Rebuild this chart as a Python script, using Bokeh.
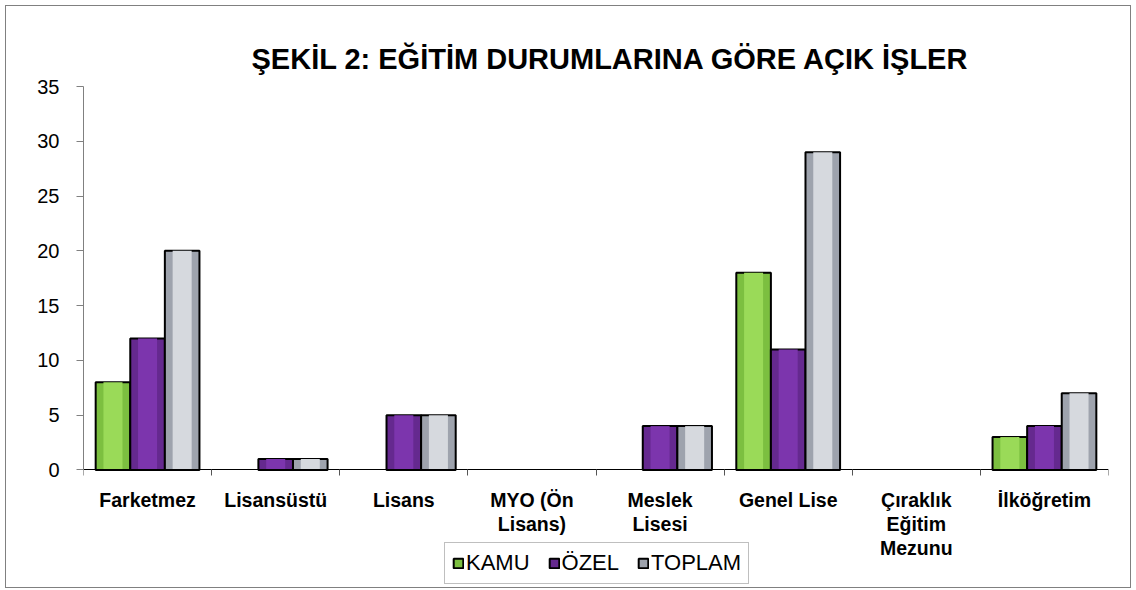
from bokeh.plotting import figure
from bokeh.models import (FixedTicker, Range1d, Legend, LegendItem, Title, ColumnDataSource,
                          CDSView, BooleanFilter)
from bokeh.embed import file_html
from bokeh.resources import INLINE

categories = ["Farketmez", "Lisansüstü", "Lisans", "MYO (Ön\nLisans)", "Meslek\nLisesi",
              "Genel Lise", "Çıraklık\nEğitim\nMezunu", "İlköğretim"]
kamu = [8, 0, 0, 0, 0, 18, 0, 3]
ozel = [12, 1, 5, 0, 4, 11, 0, 4]
toplam = [20, 1, 5, 0, 4, 29, 0, 7]
series_names = ["KAMU", "ÖZEL", "TOPLAM"]
y_ticks = [0, 5, 10, 15, 20, 25, 30, 35]

outer_colors = ["#7cbf40", "#65298f", "#9ea3ad"]
inner_colors = ["#9ada58", "#7c35ad", "#d6d9de"]

n = len(categories)
centers = [i + 0.5 for i in range(n)]
bw = 0.27

# frame extends below the value axis to hold category labels and the legend
p = figure(width=1126, height=583, output_backend="svg", toolbar_location=None,
           x_range=Range1d(0, n), y_range=Range1d(-10.64, 35),
           min_border_left=77, min_border_right=24, min_border_top=80, min_border_bottom=3)
p.styles = {"border": "1px solid #808080", "margin-left": "5px", "margin-top": "5px"}
p.outline_line_color = None
p.xgrid.visible = False
p.ygrid.visible = False

p.title = Title(text="ŞEKİL 2: EĞİTİM DURUMLARINA GÖRE AÇIK İŞLER", align="left", offset=168,
                text_font="Liberation Sans", text_font_size="29px", text_font_style="bold",
                text_color="black", standoff=24)

renderers = []
for k, (vals, oc, ic) in enumerate(zip([kamu, ozel, toplam], outer_colors, inner_colors)):
    xs = [c + (k - 1) * bw for c in centers]
    src = ColumnDataSource(dict(x=xs, top=vals))
    view = CDSView(filter=BooleanFilter([v > 0 for v in vals]))
    r = p.vbar(x="x", top="top", bottom=0, width=bw, source=src, view=view, fill_color=oc,
               line_color="black", line_width=2)
    p.vbar(x="x", top="top", bottom=0, width=bw * 0.55, source=src, view=view,
           fill_color=ic, line_color=None)
    renderers.append(r)

p.xaxis.fixed_location = 0
p.xaxis.ticker = FixedTicker(ticks=centers, minor_ticks=list(range(n + 1)))
p.xaxis.major_label_overrides = {c: lab for c, lab in zip(centers, categories)}
p.xaxis.major_tick_out = 0
p.xaxis.major_tick_in = 0
p.xaxis.minor_tick_out = 6
p.xaxis.minor_tick_in = 0
p.xaxis.minor_tick_line_color = "#555555"
p.xaxis.axis_line_color = "black"
p.xaxis.axis_line_width = 1
p.xaxis.major_label_text_font = "Liberation Sans"
p.xaxis.major_label_text_font_size = "19.5px"
p.xaxis.major_label_text_font_style = "bold"
p.xaxis.major_label_text_color = "black"
p.xaxis.major_label_text_line_height = 1.1
p.xaxis.major_label_standoff = 13

p.yaxis.bounds = (0, 35)
p.yaxis.ticker = FixedTicker(ticks=y_ticks)
p.yaxis.minor_tick_line_color = None
p.yaxis.major_tick_out = 7
p.yaxis.major_tick_in = 0
p.yaxis.axis_line_color = "#808080"
p.yaxis.major_tick_line_color = "#808080"
p.yaxis.major_label_text_font = "Liberation Sans"
p.yaxis.major_label_text_font_size = "20px"
p.yaxis.major_label_text_color = "black"
p.yaxis.major_label_standoff = 17

legend = Legend(items=[LegendItem(label=nm, renderers=[r]) for nm, r in zip(series_names, renderers)],
                orientation="horizontal", location=(361, 2),
                label_text_font="Liberation Sans", label_text_font_size="22px",
                label_text_color="black",
                label_height=20, glyph_width=12, glyph_height=12, label_standoff=2, spacing=18,
                padding=7, margin=0, border_line_color="#808080", border_line_width=1,
                background_fill_alpha=1)
p.add_layout(legend, "center")

open("out.html", "w").write(file_html(p, INLINE))
